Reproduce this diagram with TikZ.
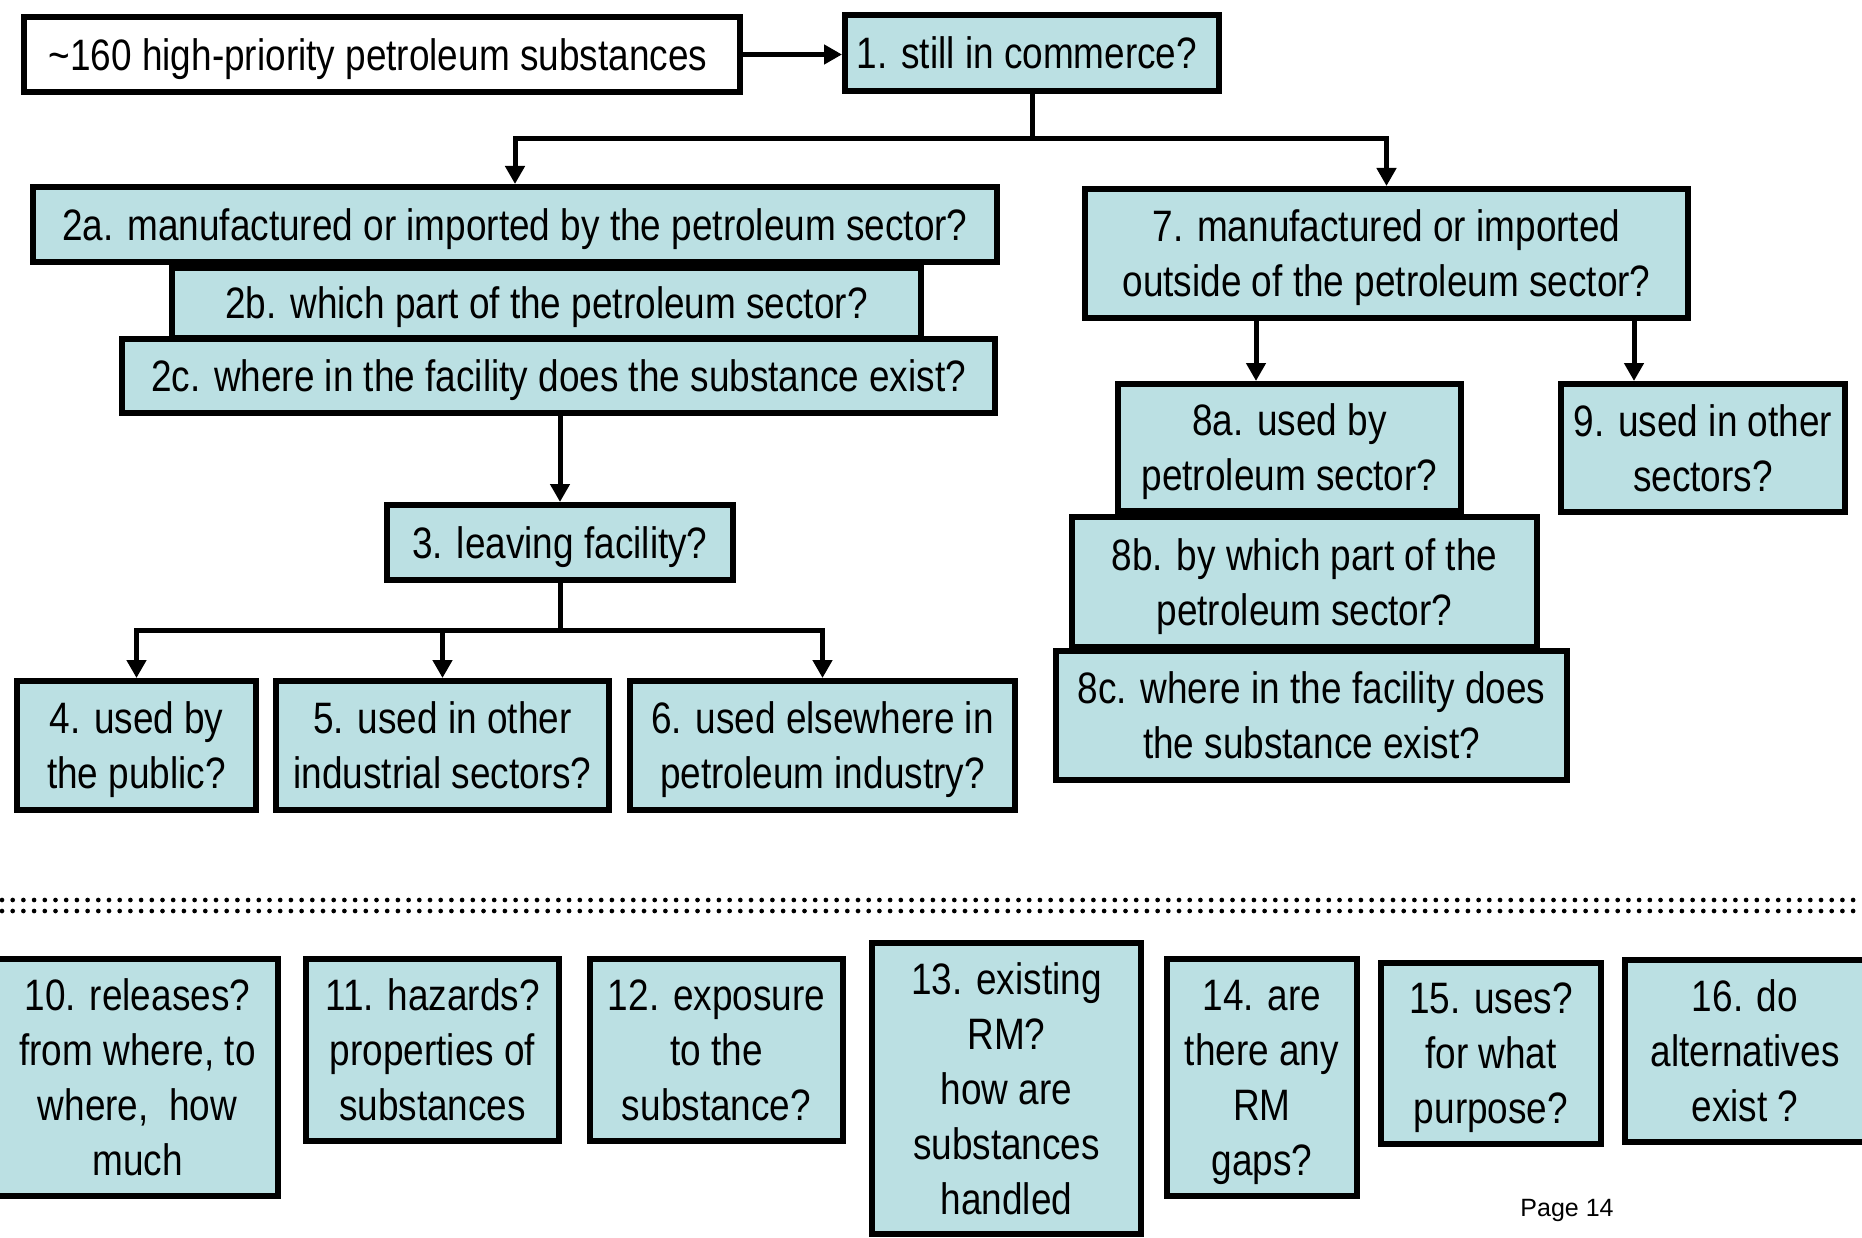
\documentclass[tikz,border=0pt]{standalone}
\usepackage{fontspec}
\setmainfont{Liberation Sans}
\newfontfamily\narrow[FakeStretch=0.84]{Liberation Sans}
\usetikzlibrary{arrows.meta}
\definecolor{boxfill}{HTML}{BBE0E3}
\begin{document}
\begin{tikzpicture}[x=1pt,y=-1pt,
  qbox/.style={draw=black, line width=6pt, fill=boxfill, inner sep=0pt, align=center,
    text depth=0pt, font=\narrow\fontsize{44}{55}\selectfont},
  conn/.style={line width=5pt, draw=black},
  arr/.style={conn, -{Triangle[length=18pt,width=19pt]}},
  dotrow/.style={line width=4.7pt, line cap=round, dash pattern=on 0pt off 10.7pt}]
\useasboundingbox (0,0) rectangle (1862,1238);
\clip (0,0) rectangle (1862,1238);
\fill[white] (0,0) rectangle (1862,1238);

% top row
\node[qbox, fill=white, minimum width=716pt, minimum height=75pt] (b0) at (382,54.5) {\textasciitilde160 high-priority petroleum substances\hspace*{8pt}};
\node[qbox, minimum width=374pt, minimum height=76pt] (b1) at (1032,53) {1. still in commerce?\hspace*{10pt}};

% left branch
\node[qbox, minimum width=964pt, minimum height=75pt] (q2a) at (515,224.5) {2a. manufactured or imported by the petroleum sector?};
\node[qbox, minimum width=749pt, minimum height=70pt] (q2b) at (546.5,303) {2b. which part of the petroleum sector?};
\node[qbox, minimum width=873pt, minimum height=74pt] (q2c) at (558.5,376) {2c. where in the facility does the substance exist?};
\node[qbox, minimum width=346pt, minimum height=75pt] (q3) at (560,542.5) {3. leaving facility?};
\node[qbox, minimum width=239pt, minimum height=129pt] (q4) at (136.5,745.5) {4. used by\\the public?};
\node[qbox, minimum width=333pt, minimum height=129pt] (q5) at (442.5,745.5) {5. used in other\\industrial sectors?};
\node[qbox, minimum width=385pt, minimum height=129pt] (q6) at (822.5,745.5) {6. used elsewhere in\\petroleum industry?};

% right branch
\node[qbox, minimum width=603pt, minimum height=129pt] (q7) at (1386.5,253.5) {7. manufactured or imported\\outside of the petroleum sector?};
\node[qbox, minimum width=343pt, minimum height=127pt] (q8a) at (1289.5,447.5) {8a. used by\\petroleum sector?};
\node[qbox, minimum width=284pt, minimum height=128pt] (q9) at (1703,448) {9. used in other\\sectors?};
\node[qbox, minimum width=465pt, minimum height=130pt] (q8b) at (1304.5,582) {8b. by which part of the\\petroleum sector?};
\node[qbox, minimum width=511pt, minimum height=129pt] (q8c) at (1311.5,715.5) {8c. where in the facility does\\the substance exist?};

% connectors
\draw[arr] (b0.east) -- (b0.east -| b1.west);
\coordinate (j1) at (1032,139);
\draw[conn] (b1.south) -- (j1);
\draw[arr] (j1) -| (q2a.north);
\draw[arr] (j1) -| (q7.north);
\draw[arr] (q3.north |- q2c.south) -- (q3.north);
\coordinate (j3) at (560,630);
\draw[conn] (q3.south) -- (j3);
\draw[arr] (j3) -| (q4.north);
\draw[arr] (j3) -| (q5.north);
\draw[arr] (j3) -| (q6.north);
\coordinate (k8) at (1256,321);
\coordinate (k9) at (1634,321);
\draw[arr] (k8) -- (k8 |- q8a.north);
\draw[arr] (k9) -- (k9 |- q9.north);

% dotted separator
\draw[dotrow] (2,900) -- (1862,900);
\draw[dotrow] (2,911) -- (1862,911);

% bottom row
\node[qbox, minimum width=281pt, minimum height=237pt] (q10) at (137.5,1077.5) {10. releases?\\from where, to\\where,\ \ how\\much};
\node[qbox, minimum width=253pt, minimum height=182pt] (q11) at (432.5,1050) {11. hazards?\\properties of\\substances};
\node[qbox, minimum width=253pt, minimum height=182pt] (q12) at (716.5,1050) {12. exposure\\to the\\substance?};
\node[qbox, minimum width=269pt, minimum height=291pt] (q13) at (1006.5,1088.5) {13. existing\\RM?\\how are\\substances\\handled};
\node[qbox, minimum width=190pt, minimum height=237pt] (q14) at (1262,1077.5) {14. are\\there any\\RM\\gaps?};
\node[qbox, minimum width=220pt, minimum height=181pt] (q15) at (1491,1053.5) {15. uses?\\for what\\purpose?};
\node[qbox, minimum width=240pt, minimum height=182pt] (q16) at (1745,1051) {16. do\\alternatives\\exist ?};

\node[font=\fontsize{25}{30}\selectfont, inner sep=0pt] (pg) at (1567,1210) {Page 14};
\end{tikzpicture}
\end{document}
